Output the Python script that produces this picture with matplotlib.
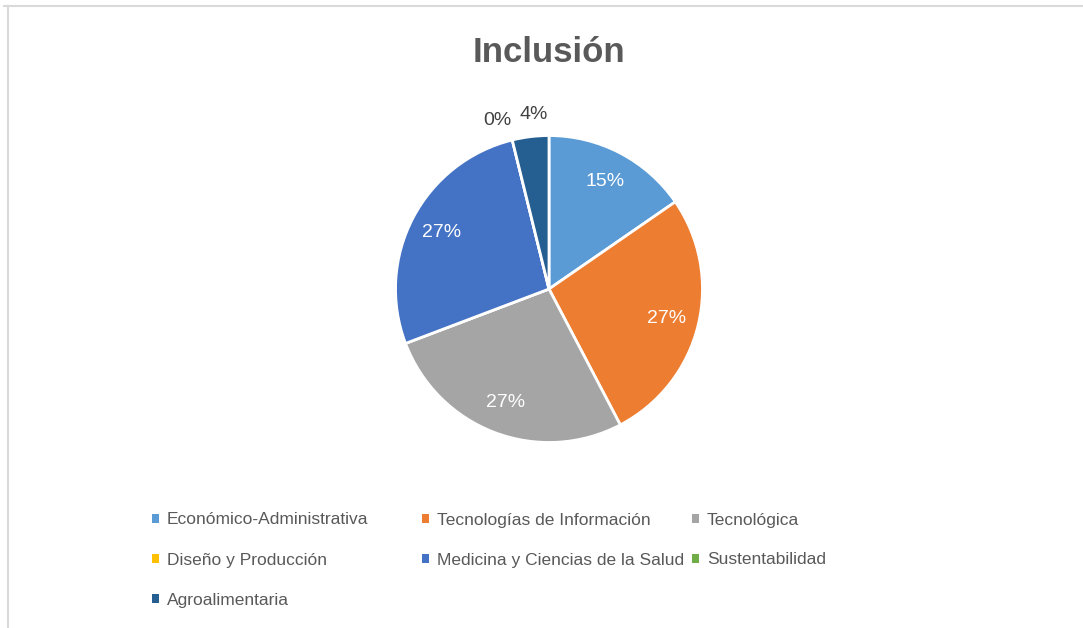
import matplotlib.pyplot as plt
from matplotlib.lines import Line2D
from matplotlib.patches import Patch
import numpy as np

categories = ["Económico-Administrativa", "Tecnologías de Información", "Tecnológica",
              "Diseño y Producción", "Medicina y Ciencias de la Salud", "Sustentabilidad",
              "Agroalimentaria"]
values = [4, 7, 7, 0, 7, 0, 1]
colors = ["#5B9BD5", "#ED7D31", "#A5A5A5", "#FFC000", "#4472C4", "#70AD47", "#255E91"]

plt.rcParams['font.family'] = ['Liberation Sans', 'DejaVu Sans']

fig = plt.figure(figsize=(10.83, 6.28), dpi=100)

# chart frame (light gray border)
fig.add_artist(Line2D([4 / 1083, 1082 / 1083], [1 - 6 / 628, 1 - 6 / 628], color="#D9D9D9", lw=1.5))
fig.add_artist(Line2D([8 / 1083, 8 / 1083], [0, 1 - 6 / 628], color="#D9D9D9", lw=1.5))

ax = fig.add_axes([394 / 1083, 184 / 628, 310 / 1083, 310 / 628])
wedges, _ = ax.pie(values, colors=colors, startangle=90, counterclock=False,
                   wedgeprops=dict(edgecolor="white", linewidth=2))
ax.set_aspect("equal")
ax.set_xlim(-1.01, 1.01)
ax.set_ylim(-1.01, 1.01)

total = sum(values)
for i, (w, v) in enumerate(zip(wedges, values)):
    pct = "%d%%" % round(100 * v / total)
    mid = np.deg2rad((w.theta1 + w.theta2) / 2)
    if v / total > 0.08:
        r = 0.79
        ax.text(r * np.cos(mid), r * np.sin(mid), pct, ha="center", va="center",
                color="white", fontsize=14)
    elif categories[i] == "Sustentabilidad":
        ax.text(-0.335, 1.10, pct, ha="center", va="center", color="#404040", fontsize=14)
    elif categories[i] == "Agroalimentaria":
        ax.text(-0.10, 1.135, pct, ha="center", va="center", color="#404040", fontsize=14)

fig.text(549 / 1083, 1 - 52 / 628, "Inclusión", ha="center", va="center",
         fontsize=25, fontweight="bold", color="#595959")

# legend laid out in rows like the spreadsheet one
col_x = [152 / 1083, 422 / 1083, 692 / 1083]
row_y = [1 - 520 / 628, 1 - 560 / 628, 1 - 600 / 628]
for i, (c, lab) in enumerate(zip(colors, categories)):
    r, k = divmod(i, 3)
    fig.legend(handles=[Patch(facecolor=c, edgecolor="none")], labels=[lab], loc="center left",
               bbox_to_anchor=(col_x[k], row_y[r]), frameon=False,
               fontsize=12.5, handlelength=0.4, handleheight=0.4,
               handletextpad=0.45, borderpad=0, borderaxespad=0,
               labelcolor="#595959")

fig.savefig("out.png", dpi=100)
